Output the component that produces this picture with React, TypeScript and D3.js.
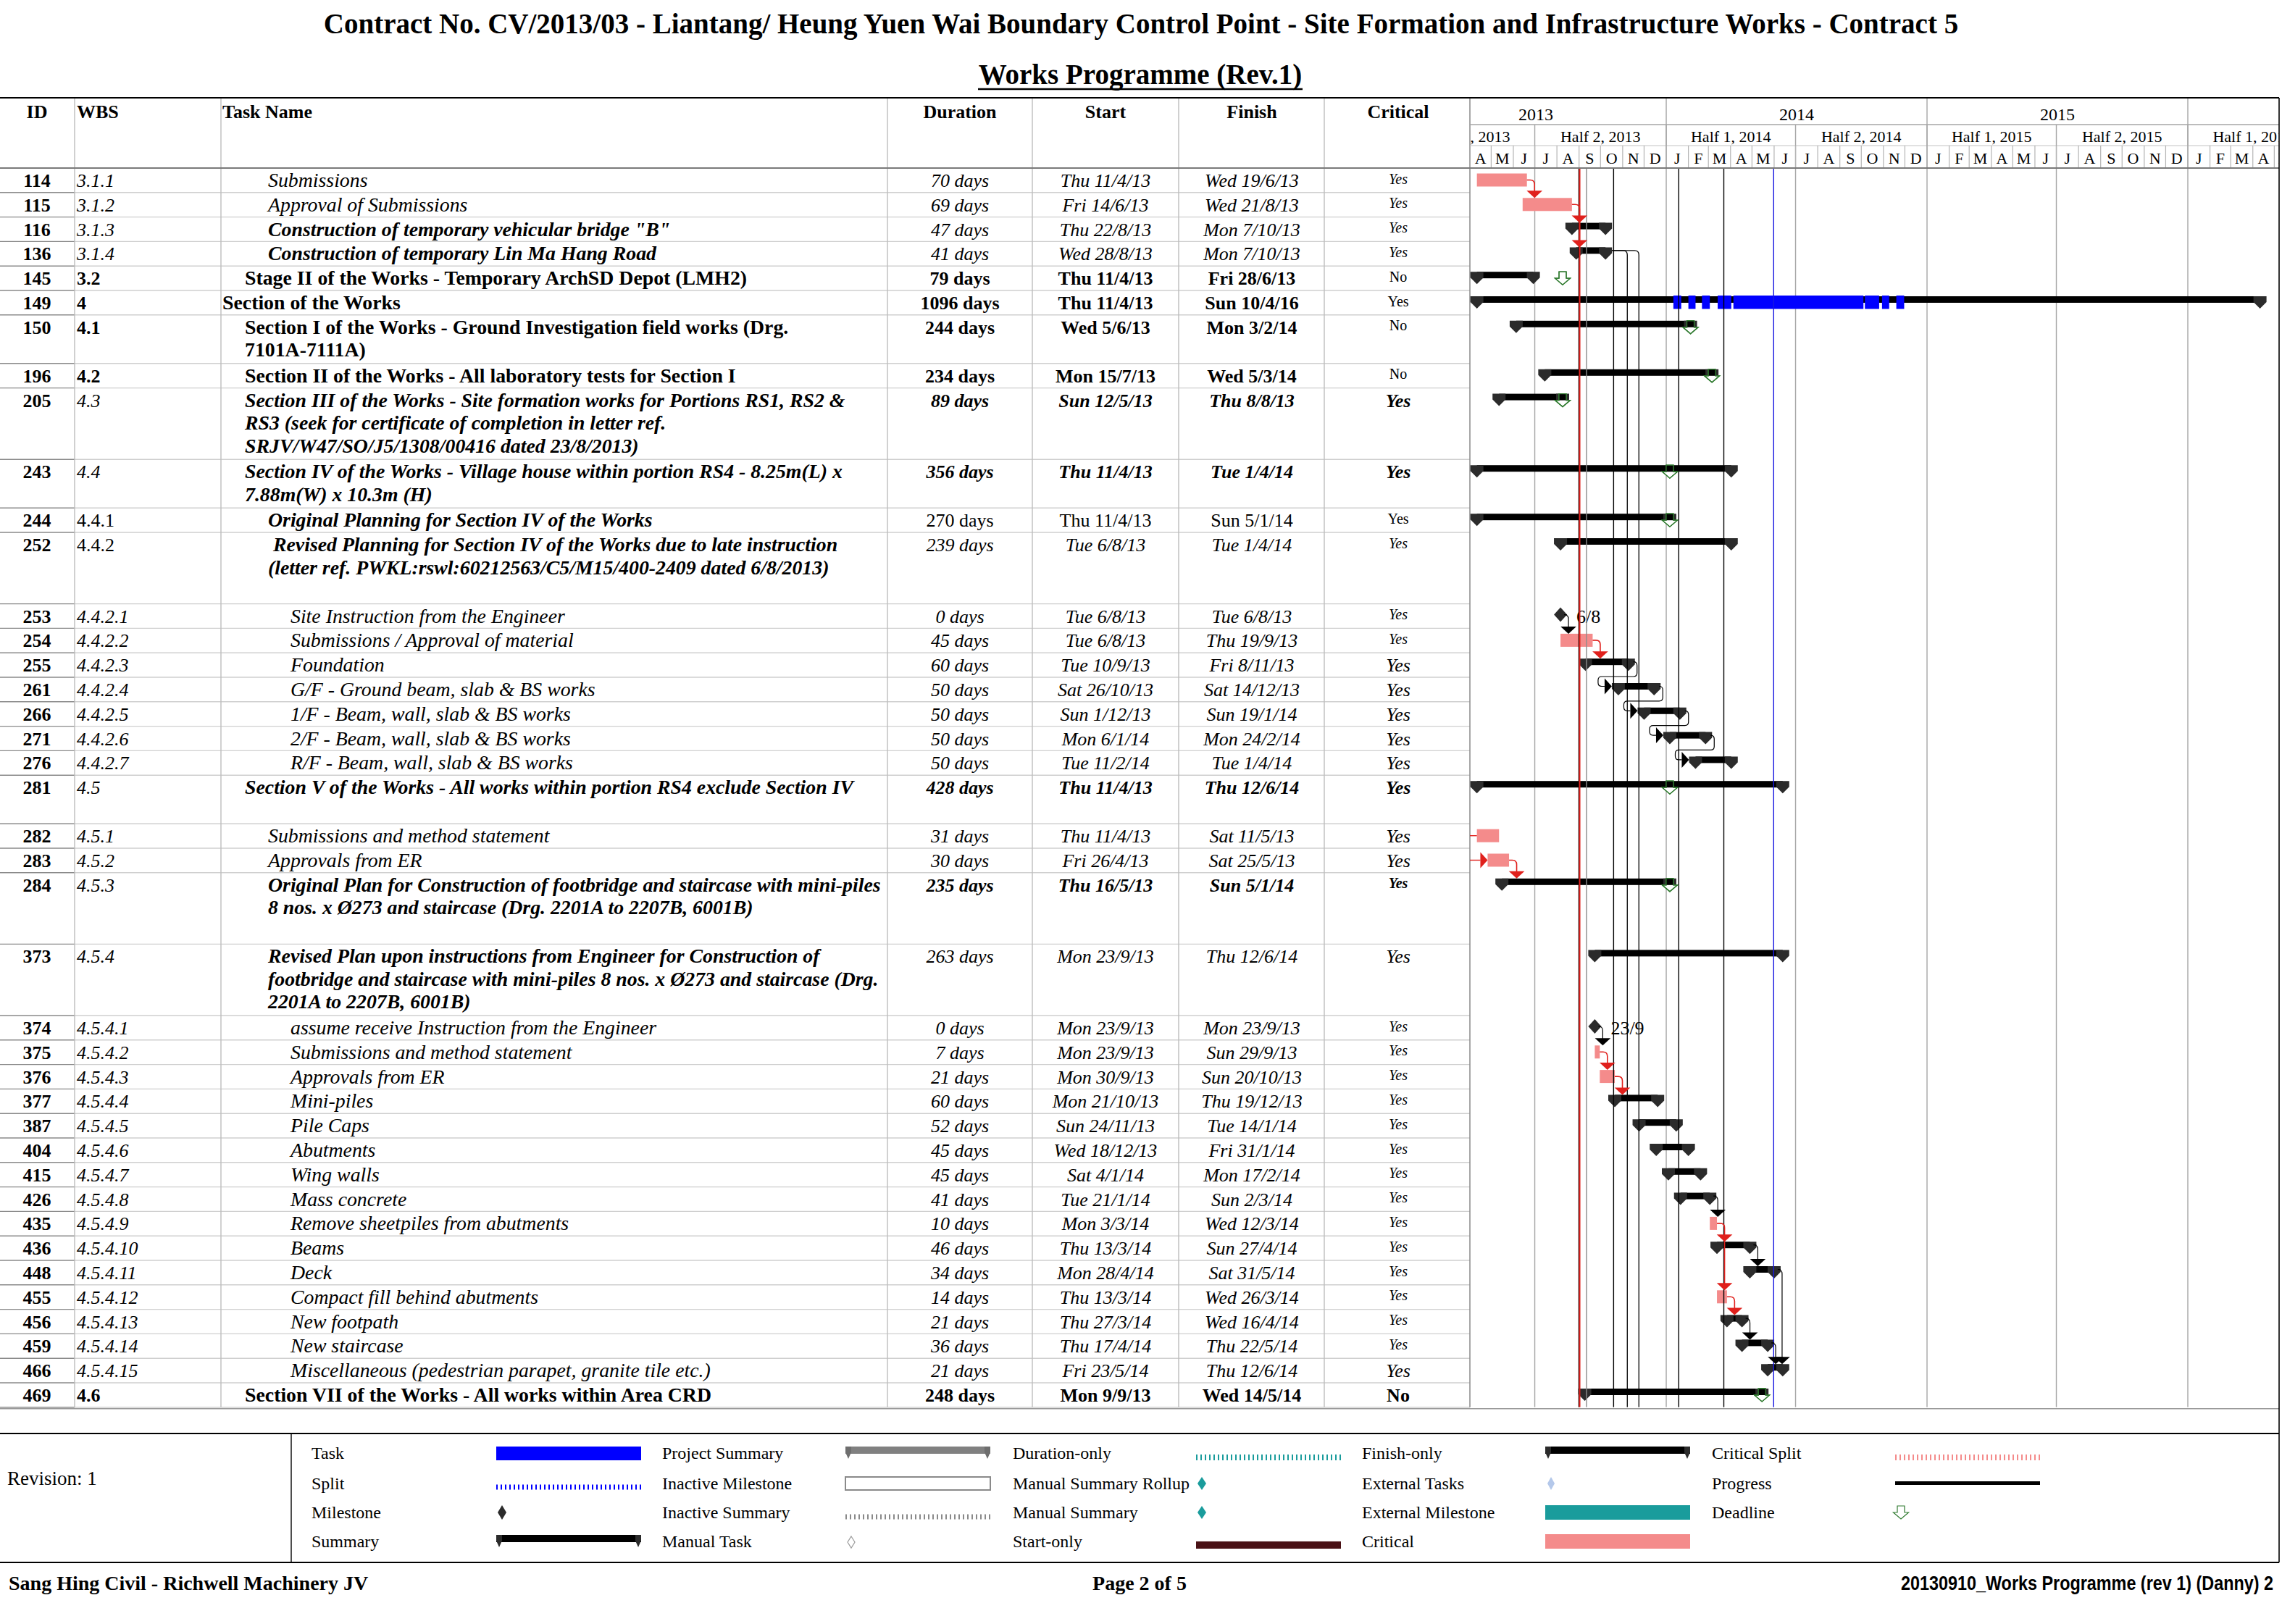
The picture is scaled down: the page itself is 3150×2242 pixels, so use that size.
import React from 'react';
import * as d3 from 'd3';

const W = 3150;
const H = 2242;
const SERIF = "'Liberation Serif', 'Times New Roman', serif";
const SANS = "'Liberation Sans', Arial, sans-serif";

// ---------- table data ----------
const ids = [114, 115, 116, 136, 145, 149, 150, 196, 205, 243, 244, 252, 253, 254, 255, 261, 266, 271, 276, 281, 282, 283, 284, 373, 374, 375, 376, 377, 387, 404, 415, 426, 435, 436, 448, 455, 456, 459, 466, 469];

const wbs = ['3.1.1', '3.1.2', '3.1.3', '3.1.4', '3.2', '4', '4.1', '4.2', '4.3', '4.4', '4.4.1', '4.4.2', '4.4.2.1', '4.4.2.2', '4.4.2.3', '4.4.2.4', '4.4.2.5', '4.4.2.6', '4.4.2.7', '4.5', '4.5.1', '4.5.2', '4.5.3', '4.5.4', '4.5.4.1', '4.5.4.2', '4.5.4.3', '4.5.4.4', '4.5.4.5', '4.5.4.6', '4.5.4.7', '4.5.4.8', '4.5.4.9', '4.5.4.10', '4.5.4.11', '4.5.4.12', '4.5.4.13', '4.5.4.14', '4.5.4.15', '4.6'];

const taskNames: string[][] = [
  ['Submissions'],
  ['Approval of Submissions'],
  ['Construction of temporary vehicular bridge "B"'],
  ['Construction of temporary Lin Ma Hang Road'],
  ['Stage II of the Works - Temporary ArchSD Depot (LMH2)'],
  ['Section of the Works'],
  ['Section I of the Works - Ground Investigation field works (Drg.', '7101A-7111A)'],
  ['Section II of the Works - All laboratory tests for Section I'],
  ['Section III of the Works - Site formation works for Portions RS1, RS2 &', 'RS3 (seek for certificate of completion in letter ref.', 'SRJV/W47/SO/J5/1308/00416 dated 23/8/2013)'],
  ['Section IV of the Works - Village house within portion RS4 - 8.25m(L) x', '7.88m(W) x 10.3m (H)'],
  ['Original Planning for Section IV of the Works'],
  [' Revised Planning for Section IV of the Works due to late instruction', '(letter ref. PWKL:rswl:60212563/C5/M15/400-2409 dated 6/8/2013)'],
  ['Site Instruction from the Engineer'],
  ['Submissions / Approval of material'],
  ['Foundation'],
  ['G/F - Ground beam, slab & BS works'],
  ['1/F - Beam, wall, slab & BS works'],
  ['2/F - Beam, wall, slab & BS works'],
  ['R/F - Beam, wall, slab & BS works'],
  ['Section V of the Works - All works within portion RS4 exclude Section IV'],
  ['Submissions and method statement'],
  ['Approvals from ER'],
  ['Original Plan for Construction of footbridge and staircase with mini-piles', '8 nos. x Ø273 and staircase (Drg. 2201A to 2207B, 6001B)'],
  ['Revised Plan upon instructions from Engineer for Construction of', 'footbridge and staircase with mini-piles 8 nos. x Ø273 and staircase (Drg.', '2201A to 2207B, 6001B)'],
  ['assume receive Instruction from the Engineer'],
  ['Submissions and method statement'],
  ['Approvals from ER'],
  ['Mini-piles'],
  ['Pile Caps'],
  ['Abutments'],
  ['Wing walls'],
  ['Mass concrete'],
  ['Remove sheetpiles from abutments'],
  ['Beams'],
  ['Deck'],
  ['Compact fill behind abutments'],
  ['New footpath'],
  ['New staircase'],
  ['Miscellaneous (pedestrian parapet, granite tile etc.)'],
  ['Section VII of the Works - All works within Area CRD'],
];

const durations = ['70 days', '69 days', '47 days', '41 days', '79 days', '1096 days', '244 days', '234 days', '89 days', '356 days', '270 days', '239 days', '0 days', '45 days', '60 days', '50 days', '50 days', '50 days', '50 days', '428 days', '31 days', '30 days', '235 days', '263 days', '0 days', '7 days', '21 days', '60 days', '52 days', '45 days', '45 days', '41 days', '10 days', '46 days', '34 days', '14 days', '21 days', '36 days', '21 days', '248 days'];

const starts = ['Thu 11/4/13', 'Fri 14/6/13', 'Thu 22/8/13', 'Wed 28/8/13', 'Thu 11/4/13', 'Thu 11/4/13', 'Wed 5/6/13', 'Mon 15/7/13', 'Sun 12/5/13', 'Thu 11/4/13', 'Thu 11/4/13', 'Tue 6/8/13', 'Tue 6/8/13', 'Tue 6/8/13', 'Tue 10/9/13', 'Sat 26/10/13', 'Sun 1/12/13', 'Mon 6/1/14', 'Tue 11/2/14', 'Thu 11/4/13', 'Thu 11/4/13', 'Fri 26/4/13', 'Thu 16/5/13', 'Mon 23/9/13', 'Mon 23/9/13', 'Mon 23/9/13', 'Mon 30/9/13', 'Mon 21/10/13', 'Sun 24/11/13', 'Wed 18/12/13', 'Sat 4/1/14', 'Tue 21/1/14', 'Mon 3/3/14', 'Thu 13/3/14', 'Mon 28/4/14', 'Thu 13/3/14', 'Thu 27/3/14', 'Thu 17/4/14', 'Fri 23/5/14', 'Mon 9/9/13'];

const finishes = ['Wed 19/6/13', 'Wed 21/8/13', 'Mon 7/10/13', 'Mon 7/10/13', 'Fri 28/6/13', 'Sun 10/4/16', 'Mon 3/2/14', 'Wed 5/3/14', 'Thu 8/8/13', 'Tue 1/4/14', 'Sun 5/1/14', 'Tue 1/4/14', 'Tue 6/8/13', 'Thu 19/9/13', 'Fri 8/11/13', 'Sat 14/12/13', 'Sun 19/1/14', 'Mon 24/2/14', 'Tue 1/4/14', 'Thu 12/6/14', 'Sat 11/5/13', 'Sat 25/5/13', 'Sun 5/1/14', 'Thu 12/6/14', 'Mon 23/9/13', 'Sun 29/9/13', 'Sun 20/10/13', 'Thu 19/12/13', 'Tue 14/1/14', 'Fri 31/1/14', 'Mon 17/2/14', 'Sun 2/3/14', 'Wed 12/3/14', 'Sun 27/4/14', 'Sat 31/5/14', 'Wed 26/3/14', 'Wed 16/4/14', 'Thu 22/5/14', 'Thu 12/6/14', 'Wed 14/5/14'];

const critical = ['Yes', 'Yes', 'Yes', 'Yes', 'No', 'Yes', 'No', 'No', 'Yes', 'Yes', 'Yes', 'Yes', 'Yes', 'Yes', 'Yes', 'Yes', 'Yes', 'Yes', 'Yes', 'Yes', 'Yes', 'Yes', 'Yes', 'Yes', 'Yes', 'Yes', 'Yes', 'Yes', 'Yes', 'Yes', 'Yes', 'Yes', 'Yes', 'Yes', 'Yes', 'Yes', 'Yes', 'Yes', 'Yes', 'No'];

// c = critical task, s = summary, m = milestone
const barTypes = ['c', 'c', 's', 's', 's', 's', 's', 's', 's', 's', 's', 's', 'm', 'c', 's', 's', 's', 's', 's', 's', 'c', 'c', 's', 's', 'm', 'c', 'c', 's', 's', 's', 's', 's', 'c', 's', 's', 'c', 's', 's', 's', 's'];

// deadlines (row id, date)
const deadlineIds = [145, 150, 196, 205, 243, 244, 281, 284, 469];
const deadlineDates = ['9/8/13', '4/2/14', '6/3/14', '9/8/13', '6/1/14', '6/1/14', '6/1/14', '6/1/14', '15/5/14'];

// blue task pieces shown on row 149
const splitStarts = ['11/1/14', '1/2/14', '20/2/14', '14/3/14', '5/4/14', '6/10/14', '30/10/14', '19/11/14'];
const splitEnds = ['22/1/14', '11/2/14', '3/3/14', '2/4/14', '4/10/14', '26/10/14', '9/11/14', '30/11/14'];

// dependency links
const linkFrom = [114, 115, 253, 254, 374, 375, 376, 426, 435, 436, 448, 455, 456, 459, 283];
const linkTo = [[115], [116, 136], [254], [255], [375], [376], [377], [435], [436, 455], [448], [466], [456], [459], [466], [284]];
const linkCrit = [true, true, false, true, false, true, true, false, true, false, false, true, false, false, true];
const loopFrom = [255, 261, 266, 271];
const loopTo = [261, 266, 271, 276];
const tailFrom = [136, 136];
const tailDates = [new Date(2013, 10, 7, 12), new Date(2013, 10, 23, 17)];
const edgeInto = [282, 283];

// long vertical link lines crossing the whole chart
const longLineDates = [new Date(2013, 7, 31, 17), new Date(2013, 8, 1, 20), new Date(2013, 8, 11, 10), new Date(2013, 9, 19, 8), new Date(2014, 0, 18, 12), new Date(2014, 2, 22, 14), new Date(2014, 4, 31, 8)];
const longLineKinds = ['black', 'red', 'gray', 'black', 'black', 'black', 'blue'];

// ---------- styles / layout ----------
// [indent level, name style, wbs style, number style, critical style, small critical text]
const rowFormat: Record<number, [number, string, string, string, string, boolean]> = {
  114: [3, 'i', 'i', 'i', 'i', true], 115: [3, 'i', 'i', 'i', 'i', true],
  116: [3, 'bi', 'i', 'i', 'i', true], 136: [3, 'bi', 'i', 'i', 'i', true],
  145: [2, 'b', 'b', 'b', '', true], 149: [1, 'b', 'b', 'b', '', true],
  150: [2, 'b', 'b', 'b', '', true], 196: [2, 'b', 'b', 'b', '', true],
  205: [2, 'bi', 'i', 'bi', 'bi', false], 243: [2, 'bi', 'i', 'bi', 'bi', false],
  244: [3, 'bi', '', '', '', true], 252: [3, 'bi', '', 'i', 'i', true],
  253: [4, 'i', 'i', 'i', 'i', true], 254: [4, 'i', 'i', 'i', 'i', true],
  255: [4, 'i', 'i', 'i', 'i', false], 261: [4, 'i', 'i', 'i', 'i', false],
  266: [4, 'i', 'i', 'i', 'i', false], 271: [4, 'i', 'i', 'i', 'i', false],
  276: [4, 'i', 'i', 'i', 'i', false], 281: [2, 'bi', 'i', 'bi', 'bi', false],
  282: [3, 'i', 'i', 'i', 'i', false], 283: [3, 'i', 'i', 'i', 'i', false],
  284: [3, 'bi', 'i', 'bi', 'bi', true], 373: [3, 'bi', 'i', 'i', 'i', false],
  466: [4, 'i', 'i', 'i', 'i', false], 469: [2, 'b', 'b', 'b', 'b', false],
};
const defaultFormat: [number, string, string, string, string, boolean] = [4, 'i', 'i', 'i', 'i', true];
const rowUnits: Record<number, number> = { 150: 2, 205: 3, 243: 2, 252: 3, 281: 2, 284: 3, 373: 3 };
const UNIT_H = [0, 33.8, 67, 98.6];
const INDENT = [0, 307, 338, 370, 401];
const COL_LINES = [103, 305, 1225, 1425, 1627, 1828];
const CHART_L = 2029;
const CHART_R = 3146;
const TOP = 135;
const TIER1 = 172;
const TIER2 = 201;
const HEAD_B = 232;

const PINK = '#f48b8b';
const CAP = '#2b2b2b';
const RED = '#e0201c';
const GREEN = '#2f7a2f';
const TEAL = '#1a9c9c';
const GRID = '#a6a6a6';
const ROWLINE = '#cfcfcf';

const LINE_COLORS: Record<string, string> = { black: '#000', red: RED, gray: '#8c8c8c', blue: '#1818e0' };

const parseDMY = (s: string) => {
  const p = s.trim().split(' ');
  const [d, m, y] = p[p.length - 1].split('/').map(Number);
  return new Date(2000 + y, m - 1, d);
};

const x = d3.scaleTime()
  .domain([new Date(2013, 3, 1), new Date(2016, 0, 1)])
  .range([2028.8, 3020]);

const styleOf = (f: string) => ({
  fontWeight: f.includes('b') ? 'bold' : 'normal',
  fontStyle: f.includes('i') ? 'italic' : 'normal',
});

const capPath = (cx: number, top: number, hw = 9) =>
  `M${cx - hw},${top} H${cx + hw} V${top + 8} L${cx},${top + 17} L${cx - hw},${top + 8} Z`;

const deadlinePath = (cx: number, top: number) =>
  `M${cx - 5},${top} H${cx + 5} V${top + 9} H${cx + 10.5} L${cx},${top + 18} L${cx - 10.5},${top + 9} H${cx - 5} Z`;

const downArrow = (cx: number, tip: number) =>
  `M${cx - 10.8},${tip - 10} H${cx + 10.8} L${cx},${tip} Z`;
const rightArrow = (tip: number, cy: number) =>
  `M${tip - 10},${cy - 11} L${tip},${cy} L${tip - 10},${cy + 11} Z`;

export default function App() {
  const tops: number[] = [];
  let acc = HEAD_B;
  ids.forEach((id) => {
    tops.push(acc);
    acc += UNIT_H[rowUnits[id] ?? 1];
  });
  const tableBottom = acc;
  const rowIdx = (id: number) => ids.indexOf(id);

  const bar = (i: number) => {
    const s = parseDMY(starts[i]);
    const f = d3.timeDay.offset(parseDMY(finishes[i]), 1);
    const t = barTypes[i];
    const top = tops[i];
    if (t === 'm') return { t, x1: x(s), x2: x(s), out: x(s) + 9, vx: x(s) + 11, mid: top + 15, top: top + 5 };
    if (t === 'c') return { t, x1: x(s), x2: x(f), out: x(f), vx: x(f) + 10.5, mid: top + 16.5, top: top + 7.5 };
    return { t, x1: x(s), x2: x(f), out: x(f) + 9, vx: x(f) + 11, mid: top + 12.5, top: top + 8 };
  };

  // timescale ticks
  const years = d3.timeYear.range(new Date(2013, 0, 1), new Date(2017, 0, 1));
  const halves = d3.timeMonth.every(6)!.range(new Date(2013, 0, 1), new Date(2016, 11, 1));
  const months = d3.timeMonth.range(new Date(2013, 2, 1), new Date(2016, 6, 1));
  const monthLetter = d3.timeFormat('%b');

  const bars = ids.map((id, i) => {
    const b = bar(i);
    if (b.t === 'm') {
      const label = finishes[i].split(' ')[1].split('/').slice(0, 2).join('/');
      return (
        <g key={`b${id}`}>
          <path d={`M${b.x1},${b.mid - 10} L${b.x1 + 9},${b.mid} L${b.x1},${b.mid + 10} L${b.x1 - 9},${b.mid} Z`} fill={CAP} />
          <text x={b.x1 + 22} y={tops[i] + 26} fontSize={26} fontFamily={SERIF}>{label}</text>
        </g>
      );
    }
    if (b.t === 'c') {
      return <rect key={`b${id}`} x={b.x1} y={b.top} width={b.x2 - b.x1} height={18} fill={PINK} />;
    }
    return (
      <g key={`b${id}`}>
        <rect x={b.x1} y={b.top} width={b.x2 - b.x1} height={9} fill="#000" />
        {id === 149 && splitStarts.map((s, k) => (
          <rect key={k} x={x(parseDMY(s))} y={b.top - 1} width={x(parseDMY(splitEnds[k])) - x(parseDMY(s))} height={18.5} fill="#0000ff" />
        ))}
        <path d={capPath(b.x1, b.top) + capPath(b.x2, b.top)} fill={CAP} />
      </g>
    );
  });

  const deadlines = deadlineIds.map((id, k) => {
    const i = rowIdx(id);
    const b = bar(i);
    const cx = x(parseDMY(deadlineDates[k]));
    const top = tops[i] + 8;
    const onBar = b.t === 's' && cx >= b.x1 && cx <= b.x2 + 9;
    return (
      <g key={`d${id}`}>
        <path d={deadlinePath(cx, top)} fill="#fff" stroke={GREEN} strokeWidth={1.3} />
        {onBar && <rect x={cx - 5} y={b.top} width={10} height={9} fill="#000" />}
        <path d={deadlinePath(cx, top)} fill="none" stroke={GREEN} strokeWidth={1.3} />
      </g>
    );
  });

  const links = linkFrom.map((fromId, k) => {
    const b = bar(rowIdx(fromId));
    const targets = linkTo[k].map((t) => bar(rowIdx(t)));
    const col = linkCrit[k] ? RED : '#000';
    const vx = b.vx;
    const last = targets[targets.length - 1];
    const r = 6;
    return (
      <g key={`l${k}`}>
        <path d={`M${b.out},${b.mid} H${vx - r} Q${vx},${b.mid} ${vx},${b.mid + r} V${last.top - 9}`}
          fill="none" stroke={col} strokeWidth={linkCrit[k] ? 1.6 : 1.2} />
        {targets.map((t, j) => <path key={j} d={downArrow(vx, t.top)} fill={col} />)}
      </g>
    );
  });

  const loops = loopFrom.map((fromId, k) => {
    const i = rowIdx(fromId);
    const b = bar(i);
    const t = bar(rowIdx(loopTo[k]));
    const rowBottom = tops[i] + UNIT_H[rowUnits[fromId] ?? 1] - 1;
    const xr = b.out + 3;
    const xl = t.x1 - 28;
    const r = 5;
    const d = `M${b.out},${b.mid} H${xr - r} Q${xr},${b.mid} ${xr},${b.mid + r} V${rowBottom - r} Q${xr},${rowBottom} ${xr - r},${rowBottom} H${xl + r} Q${xl},${rowBottom} ${xl},${rowBottom + r} V${t.mid - r} Q${xl},${t.mid} ${xl + r},${t.mid} H${t.x1 - 19}`;
    return (
      <g key={`p${k}`}>
        <path d={d} fill="none" stroke="#000" strokeWidth={1.2} />
        <path d={rightArrow(t.x1 - 9, t.mid)} fill="#000" />
      </g>
    );
  });

  const tails = tailFrom.map((fromId, k) => {
    const b = bar(rowIdx(fromId));
    const vx = x(tailDates[k]);
    return (
      <path key={`t${k}`} d={`M${b.out},${b.mid} H${vx - 6} Q${vx},${b.mid} ${vx},${b.mid + 6} V${tableBottom}`}
        fill="none" stroke="#000" strokeWidth={1.3} />
    );
  });

  const edges = edgeInto.map((id, k) => {
    const b = bar(rowIdx(id));
    return (
      <g key={`e${id}`}>
        <path d={`M${CHART_L},${b.mid} H${k === 0 ? b.x1 : b.x1 - 10}`} stroke={RED} strokeWidth={1.4} fill="none" />
        {k === 1 && <path d={rightArrow(b.x1, b.mid)} fill={RED} />}
      </g>
    );
  });

  const legendLabel = (lx: number, y: number, s: string) => (
    <text x={lx} y={y + 8} fontSize={24} fontFamily={SERIF}>{s}</text>
  );
  const LR = [2006, 2048, 2088, 2128];
  const LX = [430, 914, 1398, 1880, 2363];
  const SX = [685, 1167, 1651, 2133, 2616];
  const SW = 200;

  return (
    <svg width={W} height={H} style={{ position: 'absolute', left: 0, top: 0, background: '#fff' }} fontFamily={SERIF}>
      <rect x={0} y={0} width={W} height={H} fill="#fff" />
      <defs>
        <clipPath id="chartClip">
          <rect x={CHART_L} y={TOP} width={CHART_R - CHART_L} height={tableBottom - TOP} />
        </clipPath>
      </defs>

      {/* titles */}
      <text x={1575} y={46} textAnchor="middle" fontSize={39} fontWeight="bold">
        Contract No. CV/2013/03 - Liantang/ Heung Yuen Wai Boundary Control Point - Site Formation and Infrastructure Works - Contract 5
      </text>
      <text x={1574} y={116} textAnchor="middle" fontSize={39} fontWeight="bold">Works Programme (Rev.1)</text>
      <line x1={1350} x2={1798} y1={123} y2={123} stroke="#000" strokeWidth={2.4} />

      {/* table row separators */}
      {ids.map((id, i) => {
        const yb = tops[i] + UNIT_H[rowUnits[id] ?? 1];
        return (
          <g key={`r${id}`}>
            <line x1={0} x2={COL_LINES[0]} y1={yb} y2={yb} stroke="#8a8a8a" strokeWidth={1.4} />
            <line x1={COL_LINES[0]} x2={CHART_L} y1={yb} y2={yb} stroke={ROWLINE} strokeWidth={1.4} />
          </g>
        );
      })}
      {COL_LINES.map((cx) => (
        <line key={`c${cx}`} x1={cx} x2={cx} y1={TOP} y2={tableBottom} stroke="#bdbdbd" strokeWidth={1.4} />
      ))}
      <line x1={CHART_L} x2={CHART_L} y1={TOP} y2={tableBottom} stroke="#8a8a8a" strokeWidth={1.5} />

      {/* table header */}
      <g fontSize={26} fontWeight="bold">
        <text x={51} y={163} textAnchor="middle">ID</text>
        <text x={106} y={163}>WBS</text>
        <text x={307} y={163}>Task Name</text>
        <text x={1325} y={163} textAnchor="middle">Duration</text>
        <text x={1526} y={163} textAnchor="middle">Start</text>
        <text x={1728} y={163} textAnchor="middle">Finish</text>
        <text x={1930} y={163} textAnchor="middle">Critical</text>
      </g>

      {/* table rows */}
      {ids.map((id, i) => {
        const [ind, nf, wf, numf, cf, small] = rowFormat[id] ?? defaultFormat;
        const base = tops[i] + 26;
        return (
          <g key={`t${id}`} fontSize={26}>
            <text x={51} y={base} textAnchor="middle" fontWeight="bold">{id}</text>
            <text x={106} y={base} {...styleOf(wf)}>{wbs[i]}</text>
            {taskNames[i].map((ln, k) => (
              <text key={k} x={INDENT[ind]} y={base + k * 31.5} fontSize={27.8} {...styleOf(nf)} style={{ whiteSpace: 'pre' }}>{ln}</text>
            ))}
            <text x={1325} y={base} textAnchor="middle" {...styleOf(numf)}>{durations[i]}</text>
            <text x={1526} y={base} textAnchor="middle" {...styleOf(numf)}>{starts[i]}</text>
            <text x={1728} y={base} textAnchor="middle" {...styleOf(numf)}>{finishes[i]}</text>
            <text x={1930} y={small ? tops[i] + 21.5 : base} textAnchor="middle" fontSize={small ? 20 : 26} {...styleOf(cf)}>{critical[i]}</text>
          </g>
        );
      })}

      {/* timescale header */}
      <line x1={CHART_L} x2={CHART_R} y1={TIER1} y2={TIER1} stroke={GRID} strokeWidth={1.4} />
      <line x1={CHART_L} x2={CHART_R} y1={TIER2} y2={TIER2} stroke="#c4c4c4" strokeWidth={1.2} />
      <g clipPath="url(#chartClip)">
        {years.map((d) => (
          <g key={`y${d.getFullYear()}`}>
            <line x1={x(d)} x2={x(d)} y1={TOP} y2={HEAD_B} stroke={GRID} strokeWidth={1.4} />
            <text x={(x(d) + x(d3.timeYear.offset(d, 1))) / 2} y={166} textAnchor="middle" fontSize={24}>{d.getFullYear()}</text>
          </g>
        ))}
        {halves.map((d) => (
          <g key={`h${+d}`}>
            <line x1={x(d)} x2={x(d)} y1={TIER1} y2={HEAD_B} stroke={GRID} strokeWidth={1.4} />
            <text x={(x(d) + x(d3.timeMonth.offset(d, 6))) / 2} y={196} textAnchor="middle" fontSize={22}>
              {`Half ${d.getMonth() < 6 ? 1 : 2}, ${d.getFullYear()}`}
            </text>
          </g>
        ))}
        {months.map((d) => (
          <g key={`m${+d}`}>
            <line x1={x(d)} x2={x(d)} y1={TIER2} y2={HEAD_B} stroke="#b4b4b4" strokeWidth={1.2} />
            <text x={(x(d) + x(d3.timeMonth.offset(d, 1))) / 2} y={226} textAnchor="middle" fontSize={22}>{monthLetter(d)[0]}</text>
          </g>
        ))}

        {/* half-year gridlines in body */}
        {halves.map((d) => (
          <line key={`g${+d}`} x1={x(d)} x2={x(d)} y1={HEAD_B} y2={tableBottom} stroke={GRID} strokeWidth={1.4} />
        ))}

        {bars}

        {longLineDates.map((d, k) => (
          <line key={`v${k}`} x1={x(d)} x2={x(d)} y1={HEAD_B} y2={tableBottom}
            stroke={LINE_COLORS[longLineKinds[k]]} strokeWidth={longLineKinds[k] === 'red' ? 2 : 1.4} />
        ))}
        {tails}
        {links}
        {loops}
        {edges}
        {deadlines}
      </g>

      {/* frame lines */}
      <line x1={0} x2={CHART_R} y1={TOP} y2={TOP} stroke="#000" strokeWidth={2.2} />
      <line x1={0} x2={CHART_R} y1={HEAD_B} y2={HEAD_B} stroke="#7a7a7a" strokeWidth={2} />
      <line x1={0} x2={CHART_R} y1={tableBottom + 2} y2={tableBottom + 2} stroke="#9a9a9a" strokeWidth={1.4} />
      <line x1={CHART_R} x2={CHART_R} y1={TOP} y2={2157} stroke="#000" strokeWidth={1.6} />

      {/* legend */}
      <line x1={0} x2={CHART_R} y1={1979} y2={1979} stroke="#000" strokeWidth={2.2} />
      <line x1={0} x2={CHART_R} y1={2157} y2={2157} stroke="#000" strokeWidth={2.2} />
      <line x1={402} x2={402} y1={1979} y2={2157} stroke="#000" strokeWidth={1.4} />
      <text x={10} y={2050} fontSize={27}>Revision: 1</text>

      {legendLabel(LX[0], LR[0], 'Task')}
      <rect x={SX[0]} y={1997} width={SW} height={19} fill="#0000ff" />
      {legendLabel(LX[0], LR[1], 'Split')}
      <line x1={SX[0]} x2={SX[0] + SW} y1={2053} y2={2053} stroke="#0000ff" strokeWidth={7} strokeDasharray="2,4" />
      {legendLabel(LX[0], LR[2], 'Milestone')}
      <path d={`M${SX[0] + 8},2078 L${SX[0] + 14},2088 L${SX[0] + 8},2098 L${SX[0] + 2},2088 Z`} fill={CAP} />
      {legendLabel(LX[0], LR[3], 'Summary')}
      <rect x={SX[0]} y={2119} width={SW} height={10} fill="#000" />
      <path d={capPath(SX[0] + 4, 2119, 4) + capPath(SX[0] + SW - 4, 2119, 4)} fill={CAP} />

      {legendLabel(LX[1], LR[0], 'Project Summary')}
      <rect x={SX[1]} y={1997} width={SW} height={10} fill="#808080" />
      <path d={capPath(SX[1] + 4, 1997, 4) + capPath(SX[1] + SW - 4, 1997, 4)} fill="#6e6e6e" />
      {legendLabel(LX[1], LR[1], 'Inactive Milestone')}
      <rect x={SX[1]} y={2039} width={SW} height={18} fill="#fff" stroke="#8a8a8a" strokeWidth={2} />
      {legendLabel(LX[1], LR[2], 'Inactive Summary')}
      <line x1={SX[1]} x2={SX[1] + SW} y1={2094} y2={2094} stroke="#8a8a8a" strokeWidth={7} strokeDasharray="2,4" />
      {legendLabel(LX[1], LR[3], 'Manual Task')}
      <path d={`M${SX[1] + 8},2121 L${SX[1] + 13},2129 L${SX[1] + 8},2137 L${SX[1] + 3},2129 Z`} fill="#fff" stroke="#9a9a9a" strokeWidth={1.2} />

      {legendLabel(LX[2], LR[0], 'Duration-only')}
      <line x1={SX[2]} x2={SX[2] + SW} y1={2012} y2={2012} stroke={TEAL} strokeWidth={8} strokeDasharray="2,4" />
      {legendLabel(LX[2], LR[1], 'Manual Summary Rollup')}
      <path d={`M${SX[2] + 8},2039 L${SX[2] + 14},2048 L${SX[2] + 8},2057 L${SX[2] + 2},2048 Z`} fill={TEAL} />
      {legendLabel(LX[2], LR[2], 'Manual Summary')}
      <path d={`M${SX[2] + 8},2079 L${SX[2] + 14},2088 L${SX[2] + 8},2097 L${SX[2] + 2},2088 Z`} fill={TEAL} />
      {legendLabel(LX[2], LR[3], 'Start-only')}
      <rect x={SX[2]} y={2128} width={SW} height={10} fill="#4a1216" />

      {legendLabel(LX[3], LR[0], 'Finish-only')}
      <rect x={SX[3]} y={1997} width={SW} height={10} fill="#000" />
      <path d={capPath(SX[3] + 4, 1997, 4) + capPath(SX[3] + SW - 4, 1997, 4)} fill={CAP} />
      {legendLabel(LX[3], LR[1], 'External Tasks')}
      <path d={`M${SX[3] + 8},2039 L${SX[3] + 13},2048 L${SX[3] + 8},2057 L${SX[3] + 3},2048 Z`} fill="#b4c8ea" />
      {legendLabel(LX[3], LR[2], 'External Milestone')}
      <rect x={SX[3]} y={2078} width={SW} height={20} fill={TEAL} />
      {legendLabel(LX[3], LR[3], 'Critical')}
      <rect x={SX[3]} y={2118} width={SW} height={20} fill={PINK} />

      {legendLabel(LX[4], LR[0], 'Critical Split')}
      <line x1={SX[4]} x2={SX[4] + SW} y1={2012} y2={2012} stroke={PINK} strokeWidth={8} strokeDasharray="2,4" />
      {legendLabel(LX[4], LR[1], 'Progress')}
      <rect x={SX[4]} y={2045} width={SW} height={5} fill="#000" />
      {legendLabel(LX[4], LR[2], 'Deadline')}
      <path d={deadlinePath(SX[4] + 8, 2079)} fill="#fff" stroke={GREEN} strokeWidth={1.2} />

      {/* footer */}
      <text x={12} y={2195} fontSize={28} fontWeight="bold">Sang Hing Civil - Richwell Machinery JV</text>
      <text x={1573} y={2195} fontSize={28} fontWeight="bold" textAnchor="middle">Page 2 of 5</text>
      <text x={2624} y={2195} fontSize={28} fontFamily={SANS} fontWeight="bold" textLength={514} lengthAdjust="spacingAndGlyphs">
        20130910_Works Programme (rev 1) (Danny) 2
      </text>
    </svg>
  );
}
